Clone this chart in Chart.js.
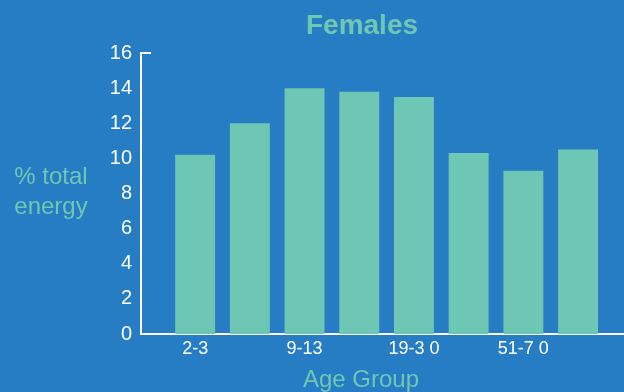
<!DOCTYPE html>
<html>
<head>
<meta charset="utf-8">
<script src="https://cdn.jsdelivr.net/npm/chart.js@4/dist/chart.umd.min.js"></script>
<style>
  html, body { margin: 0; padding: 0; background: #267dc3; }
  canvas { display: block; }
</style>
</head>
<body>
<canvas id="chart" width="624" height="392"></canvas>
<script>
// Share of total energy by age group, females
const categories = ['2-3', '4-8', '9-13', '14-18', '19-3 0', '31-50', '51-7 0', '71+'];
const energyShare = [10.2, 12.0, 14.0, 13.8, 13.5, 10.3, 9.3, 10.5];
const yTicks = [0, 2, 4, 6, 8, 10, 12, 14, 16];

const TEAL = '#6ec6b4';
const WHITE = '#ffffff';
const FONT = "'Liberation Sans', Arial, sans-serif";

// Horizontal captions and the short cap at the top of the value axis
const captions = {
  id: 'captions',
  afterDraw(chart) {
    const ctx = chart.ctx;
    const area = chart.chartArea;
    const y = chart.scales.y;
    ctx.save();
    // cap at top of the y axis
    ctx.strokeStyle = WHITE;
    ctx.lineWidth = 2;
    const top = y.getPixelForValue(y.max);
    ctx.beginPath();
    ctx.moveTo(area.left - 1, top);
    ctx.lineTo(area.left + 10, top);
    ctx.stroke();

    ctx.fillStyle = TEAL;
    ctx.textAlign = 'center';
    ctx.textBaseline = 'middle';
    ctx.font = 'bold 28px ' + FONT;
    ctx.fillText('Females', 362, 26);
    ctx.font = '24px ' + FONT;
    ctx.fillText('Age Group', 361, 380);
    ctx.fillText('% total', 51, 177);
    ctx.fillText('energy', 51, 207);
    ctx.restore();
  }
};

new Chart(document.getElementById('chart'), {
  type: 'bar',
  data: {
    datasets: [{
      data: energyShare.map((v, i) => ({ x: i, y: v })),
      backgroundColor: TEAL,
      borderWidth: 0,
      categoryPercentage: 1,
      barPercentage: 0.73
    }]
  },
  options: {
    responsive: false,
    devicePixelRatio: 1,
    animation: false,
    layout: { padding: { top: 53, right: 0, bottom: 0, left: 0 } },
    plugins: { legend: { display: false }, tooltip: { enabled: false }, title: { display: false } },
    scales: {
      x: {
        type: 'linear',
        offset: false,
        min: -0.99,
        max: 7.84,
        grid: { display: false, drawTicks: false },
        border: { display: true, color: WHITE, width: 2 },
        afterBuildTicks: s => {
          s.ticks = categories.map((_, i) => ({ value: i })).filter(t => t.value % 2 === 0);
        },
        afterFit: s => { s.height = 58; },
        ticks: {
          color: WHITE,
          font: { family: FONT, size: 18 },
          padding: 4,
          maxRotation: 0,
          autoSkip: false,
          callback: v => categories[v]
        }
      },
      y: {
        min: 0,
        max: 16,
        grid: { display: false, drawTicks: false },
        border: { display: true, color: WHITE, width: 2 },
        afterBuildTicks: s => { s.ticks = yTicks.map(v => ({ value: v })); },
        afterFit: s => { s.width = 141; },
        ticks: {
          color: WHITE,
          font: { family: FONT, size: 20 },
          padding: 9
        }
      }
    }
  },
  plugins: [captions]
});
</script>
</body>
</html>
